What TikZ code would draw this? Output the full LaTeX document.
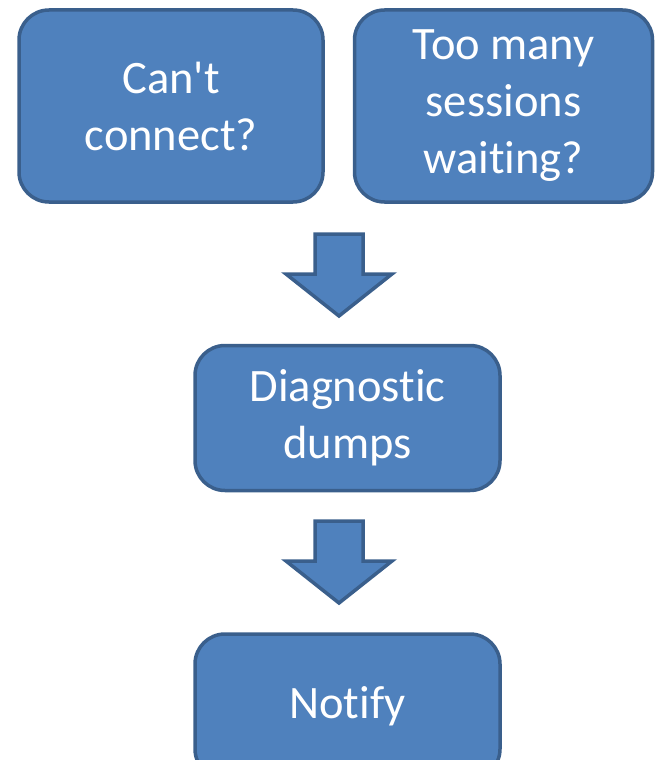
\documentclass[tikz,border=0pt]{standalone}
\usepackage{fontspec}
\setmainfont[Ligatures={TeXOff,NoCommon}]{Carlito}
\usetikzlibrary{positioning}
\definecolor{boxBlue}{HTML}{4F81BD}
\definecolor{boxEdge}{HTML}{3A5F8C}
\tikzset{
    flowBox/.style={draw=boxEdge, fill=boxBlue, line width=3.5pt, rounded corners=30pt,
        text=white, align=center, inner sep=0pt, font=\fontsize{46.5}{57}\selectfont}
}
\tikzset{
    downArrow/.pic={
		\filldraw[draw=boxEdge, fill=boxBlue, line width=3.5pt]
			(-24,0) -- (24,0) -- (24,40) -- (53,40) -- (0,82) -- (-53,40) -- (-24,40) -- cycle;
	}
}

\begin{document}
\begin{tikzpicture}[x=1pt,y=-1pt]
          \useasboundingbox (0,0) rectangle (655,760);
          \clip (0,0) rectangle (655,760);
          \node[flowBox, minimum width=304pt, minimum height=192pt] (cantConnect) at (171,106) {Can't\\connect?};
          \node[flowBox, minimum width=298pt, minimum height=192pt] (tooMany) at (503.5,106) {Too many\\sessions\\waiting?};
          \node[flowBox, minimum width=305pt, minimum height=145pt] (diagDumps) at (347.5,418) {Diagnostic\\dumps};
          \node[flowBox, minimum width=305pt, minimum height=145pt] (notify) at (347.5,706.5) {Notify};
          \pic at (339,234) {downArrow};
          \pic at (339,521) {downArrow};
          %\draw (cantConnect) -- (diagDumps);
\end{tikzpicture}
\end{document}
